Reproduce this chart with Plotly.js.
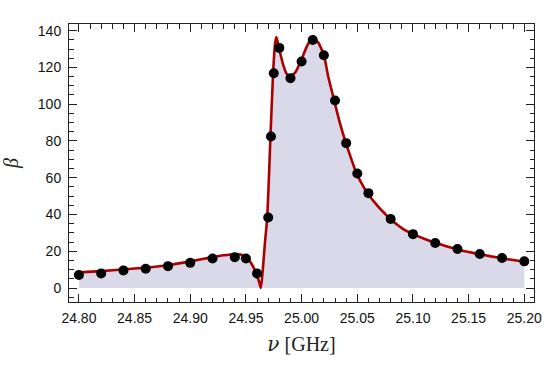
<!DOCTYPE html>
<html>
<head>
<meta charset="utf-8">
<script src="https://cdn.plot.ly/plotly-3.0.1.min.js"></script>
<style>html,body{margin:0;padding:0;background:#fff;}#chart{width:545px;height:368px;}</style>
</head>
<body>
<div id="chart"></div>
<script>
// Measured points
var pointFreq = [24.80, 24.82, 24.84, 24.86, 24.88, 24.90, 24.92, 24.94, 24.95, 24.96,
  24.97, 24.9725, 24.975, 24.98, 24.99, 25.00, 25.01, 25.02, 25.03, 25.04,
  25.05, 25.06, 25.08, 25.10, 25.12, 25.14, 25.16, 25.18, 25.20];
var pointBeta = [7.1, 7.9, 9.6, 10.5, 11.9, 13.7, 16.1, 16.8, 16.1, 7.9,
  38.4, 82.4, 116.8, 130.6, 114.1, 123.2, 134.9, 126.6, 102.0, 78.8,
  62.3, 51.6, 37.5, 29.3, 24.5, 21.2, 18.5, 16.3, 14.5];

// Fitted curve
var curveFreq = [24.80, 24.82, 24.84, 24.86, 24.88, 24.90, 24.92, 24.93, 24.94, 24.945,
  24.95, 24.955, 24.9595, 24.962, 24.9634, 24.965, 24.967, 24.9692, 24.972, 24.9744,
  24.976, 24.9772, 24.978, 24.9805, 24.9834, 24.9865, 24.989, 24.994, 24.999, 25.0044,
  25.0085, 25.0104, 25.0149, 25.020, 25.0239, 25.0293, 25.0344, 25.0398, 25.0449, 25.0494,
  25.0589, 25.065, 25.07, 25.075, 25.0793, 25.085, 25.09, 25.095, 25.10, 25.11,
  25.12, 25.13, 25.14, 25.15, 25.16, 25.17, 25.18, 25.19, 25.20];
var curveBeta = [8.5, 9.2, 10.1, 11.1, 12.4, 14.5, 16.8, 17.8, 18.4, 18.2,
  17.0, 13.2, 7.5, 3.0, 0.0, 9.0, 24.0, 39.0, 82.0, 117.0,
  132.0, 136.5, 135.0, 128.5, 121.5, 116.5, 115.3, 117.0, 123.0, 131.0,
  135.5, 136.0, 133.5, 126.8, 115.0, 101.8, 89.7, 78.8, 69.7, 62.1,
  51.6, 47.0, 43.5, 40.3, 37.5, 34.8, 32.6, 30.8, 29.3, 26.8,
  24.6, 22.7, 21.0, 19.6, 18.4, 17.2, 16.2, 15.2, 14.3];

var xTickVals = [24.80, 24.85, 24.90, 24.95, 25.00, 25.05, 25.10, 25.15, 25.20];
var xTickText = ["24.80", "24.85", "24.90", "24.95", "25.00", "25.05", "25.10", "25.15", "25.20"];
var yTickVals = [0, 20, 40, 60, 80, 100, 120, 140];

var traces = [
  {
    x: curveFreq, y: curveBeta, type: 'scatter', mode: 'lines',
    line: {color: '#aa0000', width: 2.6, shape: 'spline', smoothing: 0.5},
    fill: 'tozeroy', fillcolor: 'rgb(217,217,234)',
    hoverinfo: 'skip', showlegend: false
  },
  {
    x: pointFreq, y: pointBeta, type: 'scatter', mode: 'markers',
    marker: {color: '#000', size: 10}, showlegend: false
  }
];

var tickFont = {family: 'Liberation Sans, Arial, sans-serif', size: 14, color: '#111'};
var layout = {
  width: 545, height: 368,
  margin: {l: 69, r: 11, t: 24, b: 66},
  paper_bgcolor: '#fff', plot_bgcolor: '#fff',
  showlegend: false,
  xaxis: {
    range: [24.7911, 25.2087],
    tickmode: 'array', tickvals: xTickVals, ticktext: xTickText,
    ticks: 'inside', ticklen: 8, tickwidth: 1, tickcolor: '#222',
    minor: {dtick: 0.01, tick0: 24.80, ticks: 'inside', ticklen: 4.5, tickwidth: 1, tickcolor: '#222'},
    showline: true, linecolor: '#222', linewidth: 1, mirror: 'allticks',
    showgrid: false, zeroline: false,
    tickfont: tickFont, ticklabelstandoff: 3,
    title: {text: '<span style="font-family:DejaVu Serif"><i>ν</i></span> [GHz]', font: {family: 'Liberation Serif, Times New Roman, serif', size: 20, color: '#222'}, standoff: 12}
  },
  yaxis: {
    range: [-7.6, 143.6],
    tickmode: 'array', tickvals: yTickVals,
    ticks: 'inside', ticklen: 8, tickwidth: 1, tickcolor: '#222',
    minor: {dtick: 5, tick0: 0, ticks: 'inside', ticklen: 4.5, tickwidth: 1, tickcolor: '#222'},
    showline: true, linecolor: '#222', linewidth: 1, mirror: 'allticks',
    showgrid: false, zeroline: false,
    tickfont: tickFont, ticklabelstandoff: 4,
    title: {text: '<i>β</i>', font: {family: 'Liberation Serif, Times New Roman, serif', size: 20, color: '#222'}, standoff: 18}
  }
};

Plotly.newPlot('chart', traces, layout, {staticPlot: true, displayModeBar: false});
</script>
</body>
</html>
